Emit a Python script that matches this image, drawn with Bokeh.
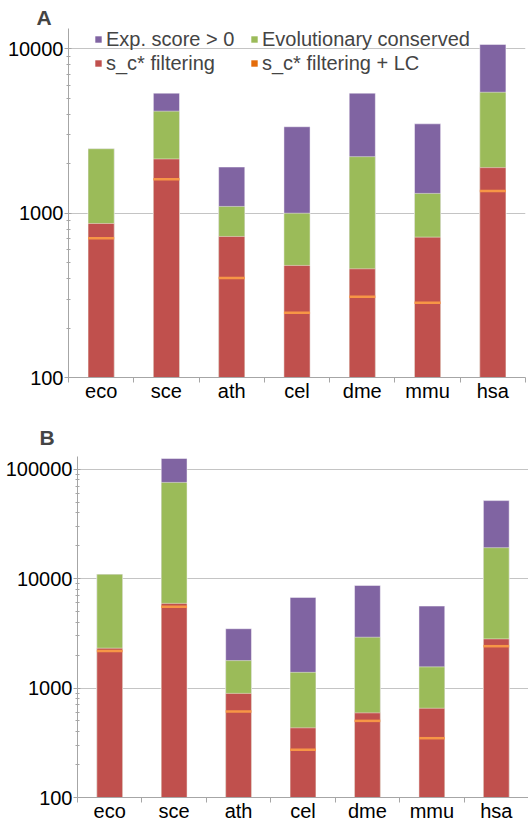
from bokeh.plotting import figure
from bokeh.layouts import column
from bokeh.models import (FixedTicker, NumeralTickFormatter, Legend, LegendItem,
                          Range1d, ColumnDataSource)
from bokeh.embed import file_html
from bokeh.resources import INLINE

species = ["eco", "sce", "ath", "cel", "dme", "mmu", "hsa"]

# Panel A
exp_a = [2470, 5380, 1910, 3360, 5380, 3500, 10650]
evo_a = [2470, 4180, 1100, 1000, 2210, 1320, 5450]
sc_a = [866, 2140, 722, 481, 459, 715, 1895]
lc_a = [705, 1610, 403, 248, 310, 285, 1365]

# Panel B
exp_b = [10940, 124800, 3480, 6720, 8640, 5600, 51500]
evo_b = [10940, 75500, 1780, 1390, 2910, 1560, 19140]
sc_b = [2310, 5930, 893, 433, 593, 653, 2810]
lc_b = [2180, 5520, 609, 273, 501, 348, 2410]

ticks_a = [100, 1000, 10000]
ticks_b = [100, 1000, 10000, 100000]

legend_labels = ["Exp. score > 0", "Evolutionary conserved", "s_c* filtering", "s_c* filtering + LC"]

PURPLE = "#8064A2"
GREEN = "#9BBB59"
RED = "#C0504D"
ORANGE = "#F79646"
ORANGE_DARK = "#E46C0A"
AXIS = "#A6A6A6"
GRID = "#C4C4C4"
FONT = "Liberation Sans"


def make_panel(title, exp, evo, sc, lc, y_top, ticks, height, b_top, b_bottom,
               b_left, b_right, title_offset, title_standoff, legend=False):
    n = len(species)
    xs = [i + 0.5 for i in range(n)]
    p = figure(width=528, height=height, x_range=Range1d(0, n),
               y_range=Range1d(100, y_top), y_axis_type="log",
               output_backend="svg", toolbar_location=None,
               min_border_left=b_left, min_border_right=b_right,
               min_border_top=b_top, min_border_bottom=b_bottom,
               title=title)
    try:
        p.frame_align = False
    except Exception:
        pass
    p.title.text_font = FONT
    p.title.text_font_size = "21px"
    p.title.text_font_style = "bold"
    p.title.align = "left"
    p.title.offset = title_offset
    p.title.standoff = title_standoff
    p.outline_line_color = None
    p.background_fill_color = "white"

    src = ColumnDataSource(dict(x=xs, exp=exp, evo=evo, sc=sc, lc=lc))
    kw = dict(x="x", bottom=1, width=0.4, source=src, line_color="white",
              line_alpha=0.45, line_width=1)
    p.vbar(top="exp", fill_color=PURPLE, **kw)
    p.vbar(top="evo", fill_color=GREEN, **kw)
    p.vbar(top="sc", fill_color=RED, **kw)
    p.rect(x="x", y="lc", width=0.4, height=2.5, height_units="screen",
           source=src, fill_color=ORANGE, line_color=None)

    # axes
    xa = p.xaxis[0]
    xa.ticker = FixedTicker(ticks=xs, minor_ticks=list(range(n + 1)))
    xa.major_label_overrides = {x: s for x, s in zip(xs, species)}
    xa.major_tick_line_color = None
    xa.major_tick_in = 0
    xa.major_tick_out = 0
    xa.minor_tick_in = 0
    xa.minor_tick_out = 5
    xa.minor_tick_line_color = AXIS
    xa.axis_line_color = AXIS
    xa.major_label_text_font = FONT
    xa.major_label_text_font_size = "20px"
    xa.major_label_text_line_height = 1.0
    xa.major_label_text_color = "black"
    xa.major_label_standoff = -3

    ya = p.yaxis[0]
    minor = [m * t for t in ticks[:-1] for m in range(2, 10)]
    minor += [m * ticks[-1] for m in range(2, 10) if m * ticks[-1] <= y_top]
    ya.ticker = FixedTicker(ticks=ticks, minor_ticks=minor)
    ya.formatter = NumeralTickFormatter(format="0")
    ya.axis_line_color = AXIS
    ya.major_tick_line_color = AXIS
    ya.minor_tick_line_color = AXIS
    ya.major_tick_in = 3
    ya.major_tick_out = 4
    ya.minor_tick_in = 2
    ya.minor_tick_out = 2
    ya.major_label_text_font = FONT
    ya.major_label_text_font_size = "20px"
    ya.major_label_text_color = "black"
    ya.major_label_standoff = 1

    p.xgrid.grid_line_color = None
    p.ygrid.grid_line_color = GRID
    p.ygrid.ticker = FixedTicker(ticks=ticks)

    if legend:
        # zero-size marks that only provide the legend swatches
        specs = [("exp", PURPLE), ("evo", GREEN), ("sc", RED), ("lc", ORANGE_DARK)]
        swatches = [p.rect(x="x", y=col, width=0, height=0, source=src,
                           fill_color=c, line_color=None) for col, c in specs]
        items = [LegendItem(label=l, renderers=[r]) for l, r in zip(legend_labels, swatches)]
        for k, loc in enumerate([(26, 302), (182, 302)]):
            leg = Legend(items=[items[k], items[k + 2]], location=loc,
                         orientation="vertical", padding=0, margin=0, spacing=0,
                         glyph_width=8, glyph_height=8, label_standoff=4,
                         label_height=24, label_text_font=FONT,
                         label_text_font_size="20px", border_line_color=None,
                         background_fill_alpha=0)
            p.add_layout(leg)
    return p


pa = make_panel("A", exp_a, evo_a, sc_a, lc_a, 13320, ticks_a, 404, 28, 26,
                68, 3, -32, 0, legend=True)
pb = make_panel("B", exp_b, evo_b, sc_b, lc_b, 130200, ticks_b, 420, 52, 26,
                77, 0, -38, 15)

layout = column(pa, pb, spacing=0)
open("out.html", "w").write(file_html(layout, INLINE))
